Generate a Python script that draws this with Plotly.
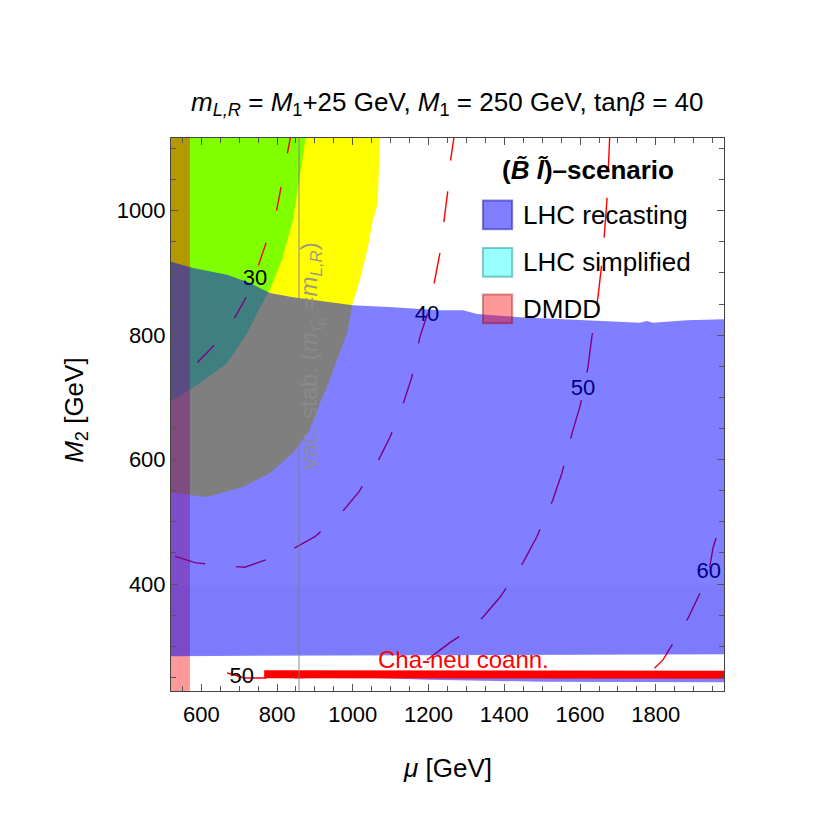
import plotly.graph_objects as go

FONT = "Liberation Sans, Arial, sans-serif"

# region outlines, (mu, M2) in GeV
yellow_mu = [500, 1072, 1066, 1053, 1040, 1019, 1000, 985, 958, 932, 913, 887, 842, 781, 710, 615, 570, 517, 500]
yellow_m2 = [1130, 1130, 1012, 985, 942, 889, 852, 803, 760, 717, 691, 648, 611, 578, 556, 540, 543, 548, 549]

green_mu = [500, 879, 842, 813, 781, 755, 721, 668, 597, 525, 500]
green_m2 = [1130, 1130, 985, 921, 873, 845, 803, 755, 723, 696, 693]

dmdd_mu = [500, 570, 570, 500]
dmdd_m2 = [200, 200, 1140, 1140]

lhc_mu = [500, 520, 578, 668, 729, 781, 842, 948, 1000, 1106, 1230, 1291, 1328, 1441, 1618,
          1758, 1777, 1792, 1882, 2000, 2000, 500]
lhc_m2 = [919, 918, 908, 897, 884, 868, 861, 853, 848, 845, 840, 840, 834, 829, 824,
          820, 823, 820, 824, 826, 287, 284]

sliver_mu = [1000, 2000, 2000, 1500, 1200, 1000]
sliver_m2 = [251, 251, 242, 243, 246, 250]

band_mu = [500, 2000, 2000, 500]
band_m2 = [287, 287, 398, 398]

cha_mu = [766, 2000]
cha_m2 = [255, 254]

vac_mu = [858, 858]
vac_m2 = [200, 1140]

# contour lines
c30_mu = [839, 816, 800, 781, 752, 744, 715, 689, 655, 591, 538, 512]
c30_m2 = [1130, 1057, 1004, 966, 914, 900, 857, 829, 797, 757, 736, 728]

c40_mu = [1270, 1259, 1251, 1241, 1230, 1214, 1196, 1177, 1156, 1130, 1098, 1061, 1016, 961,
          900, 826, 747, 715, 668, 586, 517, 512]
c40_m2 = [1130, 1085, 1033, 982, 932, 881, 832, 797, 733, 684, 636, 591, 548, 508,
          476, 451, 434, 427, 429, 434, 447, 449]

c50_mu = [1679, 1671, 1660, 1647, 1631, 1621, 1600, 1579, 1552, 1528, 1507, 1486, 1449, 1389,
          1344, 1301, 1259, 1196, 1159, 1138, 993, 834, 715, 615]
c50_m2 = [1130, 1017, 929, 860, 797, 749, 686, 643, 578, 535, 506, 476, 434, 379,
          347, 323, 307, 278, 268, 258, 252, 249, 249, 266]

c60_mu = [1959, 1951, 1940, 1914, 1885, 1819, 1785, 1758]
c60_m2 = [474, 458, 419, 382, 345, 278, 258, 244]

label_mu = [742, 1196, 1608, 707, 1940]
label_m2 = [889, 832, 712, 249, 419]
label_txt = ["30", "40", "50", "50", "60"]


def area(xs, ys, color):
    return go.Scatter(x=xs, y=ys, mode="lines", fill="toself", fillcolor=color,
                      line=dict(width=0), hoverinfo="skip", showlegend=False)


def contour(xs, ys, dash):
    return go.Scatter(x=xs, y=ys, mode="lines", hoverinfo="skip", showlegend=False,
                      line=dict(color="#ff0000", width=1.4, dash=dash))


def note(text, x, y, size, color="black", ref="paper", **kw):
    fig.add_annotation(x=x, y=y, xref=ref, yref=ref, text=text, showarrow=False,
                       xanchor=kw.pop("xanchor", "center"), yanchor="middle",
                       font=dict(family=FONT, size=size, color=color), **kw)


fig = go.Figure()
fig.add_trace(area(yellow_mu, yellow_m2, "#ffff00"))
fig.add_trace(area(green_mu, green_m2, "#80ff00"))
fig.add_trace(area(dmdd_mu, dmdd_m2, "rgba(255,0,0,0.4)"))
fig.add_trace(contour(c30_mu, c30_m2, "24px,34px"))
fig.add_trace(contour(c40_mu, c40_m2, "31px,31px"))
fig.add_trace(contour(c50_mu, c50_m2, "40px,28px"))
fig.add_trace(contour(c60_mu, c60_m2, "30px,28px"))
fig.add_trace(go.Scatter(x=label_mu, y=label_m2, mode="text", text=label_txt,
                         textfont=dict(family=FONT, size=22, color="black"),
                         hoverinfo="skip", showlegend=False))
# LHC recasting on top, half transparent blue
fig.add_trace(area(lhc_mu, lhc_m2, "rgba(0,0,255,0.5)"))
fig.add_trace(area(band_mu, band_m2, "rgba(0,0,120,0.03)"))
fig.add_trace(area(sliver_mu, sliver_m2, "rgba(0,0,255,0.5)"))
fig.add_trace(go.Scatter(x=cha_mu, y=cha_m2, mode="lines", line=dict(color="#ff0000", width=8),
                         hoverinfo="skip", showlegend=False))
fig.add_trace(go.Scatter(x=vac_mu, y=vac_m2, mode="lines",
                         line=dict(color="rgba(128,128,128,0.7)", width=1.3),
                         hoverinfo="skip", showlegend=False))

note("vac. stab. (<i>m</i><sub>τ\u0303<sub>R</sub></sub> =<i>m</i><sub><i>L,R</i></sub>)",
     892, 767, 24, color="rgba(140,140,140,0.85)", ref=None, textangle=-90)
fig.layout.annotations[-1].update(xref="x", yref="y")
note("Cha-neu coann.", 1061, 279, 24, color="#ff0000", ref=None, xanchor="left")
fig.layout.annotations[-1].update(xref="x", yref="y")

# legend drawn by hand
legend_items = [("LHC recasting", "rgba(0,0,255,0.5)", "rgba(0,0,150,0.45)", 0.861),
                ("LHC simplified", "rgba(0,255,255,0.4)", "rgba(0,140,140,0.45)", 0.775),
                ("DMDD", "rgba(255,0,0,0.4)", "rgba(150,0,0,0.4)", 0.691)]
for name, fill, edge, yc in legend_items:
    fig.add_shape(type="rect", xref="paper", yref="paper", x0=0.564, x1=0.617,
                  y0=yc - 0.026, y1=yc + 0.026, fillcolor=fill, line=dict(color=edge, width=2))
    note(name, 0.633, yc, 26, xanchor="left")
note("<b>(<i>B\u0303 l\u0303</i>)–scenario</b>", 0.754, 0.942, 26)

note("<i>m</i><sub><i>L,R</i></sub> = <i>M</i><sub>1</sub>+25 GeV, "
     "<i>M</i><sub>1</sub> = 250 GeV, tan<i>β</i> = 40", 0.5, 1.063, 26)
note("<i>μ</i> [GeV]", 0.5, -0.139, 26)
note("<i>M</i><sub>2</sub> [GeV]", -0.174, 0.508, 26, textangle=-90)

axis_common = dict(
    showgrid=False, zeroline=False, showline=True, linecolor="#444", linewidth=1,
    mirror="allticks", ticks="inside", ticklen=7, tickcolor="#555",
    minor=dict(dtick=50, ticks="inside", ticklen=5, tickcolor="#555"),
    tickfont=dict(family=FONT, size=22, color="black"),
)
fig.update_layout(
    width=830, height=830,
    paper_bgcolor="white", plot_bgcolor="white",
    margin=dict(l=163, r=114, t=130, b=147),
    showlegend=False,
    xaxis=dict(range=[520, 1980], tickvals=[600, 800, 1000, 1200, 1400, 1600, 1800],
               ticklabelstandoff=4, **axis_common),
    yaxis=dict(range=[228, 1117], tickvals=[400, 600, 800, 1000],
               ticklabelstandoff=0, **axis_common),
)

fig.write_html("out.html")
